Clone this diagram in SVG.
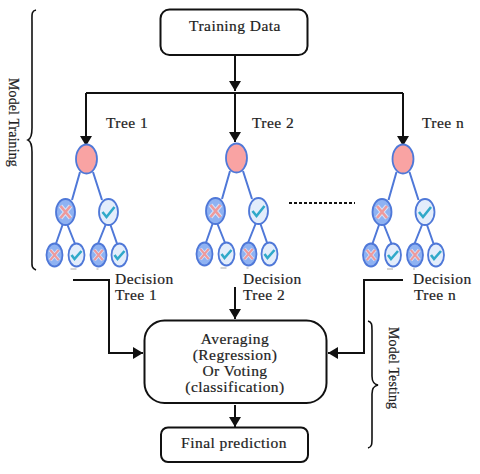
<svg xmlns="http://www.w3.org/2000/svg" width="480" height="474" viewBox="0 0 480 474">
<style>
.t{font-family:"Liberation Serif","Times New Roman",serif;font-size:15.500px;fill:#222;letter-spacing:.45px;stroke:#222;stroke-width:.2px}
.s{font-size:14px;letter-spacing:.1px}
.m{text-anchor:middle}
.box{fill:#fff;stroke:#111;stroke-width:2}
.c{fill:none;stroke:#111;stroke-width:2}
.b{fill:none;stroke:#111;stroke-width:1.6}
.e{stroke:#4f78d8;stroke-width:2;fill:none}
.root{fill:#f9a3a3;stroke:#4f78d8;stroke-width:1.8}
.no{fill:#8fb2f2;stroke:#4f78d8;stroke-width:1.8}
.yes{fill:#e3edfb;stroke:#4f78d8;stroke-width:1.8}
.h{stroke:#d5e2fa;stroke-width:4.500;fill:none}
.x{stroke:#ee9a9c;stroke-width:2.600;fill:none}
.v{stroke:#2fa9c9;stroke-width:2.600;fill:none}
</style>
<defs>
<marker id="a" markerUnits="userSpaceOnUse" markerWidth="11" markerHeight="12" refX="10" refY="6" orient="auto"><path d="M0 0L10 6L0 12Z" fill="#111"/></marker>
<g id="cross"><path class="h" d="M-5 -6L5 6M5 -6L-5 6"/><path class="x" d="M-5 -6L5 6M5 -6L-5 6"/></g>
<g id="tree">
<path class="e" d="M-6.500 13L-14.500 41M6.500 13L15.500 41M-24 66L-31 86M-19 66L-11 86M19 66L11 86M24 66L31 86"/>
<ellipse class="root" cx="0" cy="0" rx="10.500" ry="14.500"/>
<g transform="translate(-21,53)"><ellipse class="no" rx="9.500" ry="13"/><use href="#cross"/></g>
<g transform="translate(22,53)"><ellipse class="yes" rx="9.500" ry="13"/><path class="v" d="M-6 0L-2 5L6 -5"/></g>
<g transform="translate(-32,96)"><ellipse class="no" rx="8" ry="11.500"/><use href="#cross" transform="scale(.85)"/></g>
<g transform="translate(-10,96)"><ellipse class="yes" rx="8" ry="11.500"/><path class="v" d="M-5 0L-2 4L5 -4"/></g>
<g transform="translate(12,96)"><ellipse class="no" rx="8" ry="11.500"/><use href="#cross" transform="scale(.85)"/></g>
<g transform="translate(33,96)"><ellipse class="yes" rx="8" ry="11.500"/><path class="v" d="M-5 0L-2 4L5 -4"/></g>
<path d="M-16 110h6M10 110h2" stroke="#aaa" stroke-width="1"/>
</g>
</defs>

<g id="connectors">
<path class="c" d="M235 55V91" marker-end="url(#a)"/>
<path class="c" d="M86 93H403"/>
<path class="c" d="M86 93V146" marker-end="url(#a)"/>
<path class="c" d="M235 93V142" marker-end="url(#a)"/>
<path class="c" d="M403 93V146" marker-end="url(#a)"/>
<path class="c" d="M73 280H109V353H143" marker-end="url(#a)"/>
<path class="c" d="M235 287V319" marker-end="url(#a)"/>
<path class="c" d="M403 280H364V353H328" marker-end="url(#a)"/>
<path class="c" d="M235 405V427" marker-end="url(#a)"/>
<path d="M289 203H355" stroke="#111" stroke-width="2" stroke-dasharray="3 2" fill="none"/>
</g>

<g id="training-data"><rect class="box" x="160.500" y="9.500" width="147" height="45.500" rx="9"/><text class="t m" x="235" y="31">Training Data</text></g>

<g id="tree-1"><use href="#tree" transform="translate(86.500,159)"/><text class="t" x="106" y="128">Tree 1</text></g>
<g id="tree-2"><use href="#tree" transform="translate(236.500,158)"/><text class="t" x="252" y="128">Tree 2</text></g>
<g id="tree-n"><use href="#tree" transform="translate(403,159)"/><text class="t" x="422" y="128">Tree n</text></g>

<g id="decision-1"><text class="t" x="115" y="284">Decision</text><text class="t" x="115" y="300">Tree 1</text></g>
<g id="decision-2"><text class="t" x="243" y="284">Decision</text><text class="t" x="243" y="300">Tree 2</text></g>
<g id="decision-n"><text class="t" x="413" y="284">Decision</text><text class="t" x="414" y="300">Tree n</text></g>

<g id="aggregate"><rect class="box" x="144.500" y="320.500" width="182" height="82.500" rx="20"/>
<text class="t m" x="235" y="344">Averaging</text><text class="t m" x="235" y="360">(Regression)</text><text class="t m" x="235" y="376">Or Voting</text><text class="t m" x="235" y="392">(classification)</text></g>
<g id="final"><rect class="box" x="161" y="427.500" width="147" height="34.500" rx="7"/><text class="t m" x="234" y="448">Final prediction</text></g>

<g id="model-training"><path class="b" d="M36 10C31 11 32 15 32 22V128C32 136 30 139 28 140C30 141 32 144 32 152V258C32 265 31 268 36 270"/>
<text class="t s" transform="translate(9,78) rotate(90)">Model Training</text></g>
<g id="model-testing"><path class="b" d="M368 321C372 322 372 325 372 330V376C372 382 374 384 378 385C374 386 372 388 372 394V438C372 444 372 447 368 448"/>
<text class="t s" transform="translate(389,327) rotate(90)">Model Testing</text></g>
</svg>
